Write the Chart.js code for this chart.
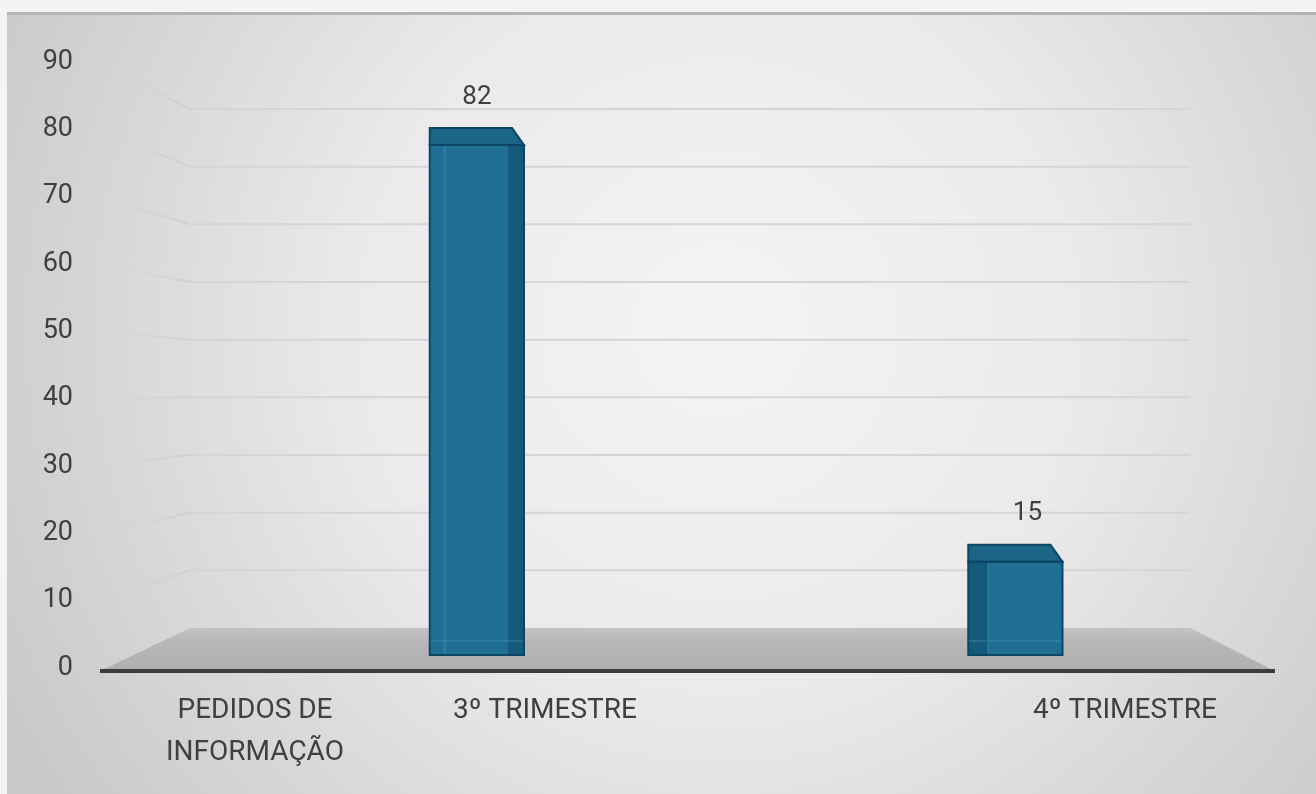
<!DOCTYPE html>
<html>
<head>
<meta charset="utf-8">
<title>Pedidos de informação</title>
<script src="https://cdn.jsdelivr.net/npm/chart.js@4.4.1/dist/chart.umd.min.js"></script>
<style>
  html, body { margin: 0; padding: 0; background: #f4f4f4; }
  canvas { display: block; }
</style>
</head>
<body>
<canvas id="chart" width="1316" height="794"></canvas>
<script>
// categorias do eixo x (a terceira fica sem rótulo)
var categorias = ['PEDIDOS DE INFORMAÇÃO', '3º TRIMESTRE', '', '4º TRIMESTRE'];
var rotulos = [['PEDIDOS DE', 'INFORMAÇÃO'], '3º TRIMESTRE', '', '4º TRIMESTRE'];
var pedidos = [null, 82, null, 15];
var ticksY = [0, 10, 20, 30, 40, 50, 60, 70, 80, 90];

var corTexto = '#404040';
var fonte = 'Roboto, "Open Sans", sans-serif';

// parede do fundo, chão e efeito 3D das barras
var cena3d = {
  id: 'cena3d',
  beforeDraw: function (chart) {
    var ctx = chart.ctx;
    ctx.save();
    ctx.fillStyle = '#f4f4f4';
    ctx.fillRect(0, 0, chart.width, chart.height);
    var g = ctx.createRadialGradient(720, 330, 0, 720, 330, 820);
    g.addColorStop(0, '#f6f3f3');
    g.addColorStop(0.45, '#ebe9e9');
    g.addColorStop(1, '#c8c8c8');
    ctx.fillStyle = g;
    ctx.fillRect(7, 13, chart.width - 7, chart.height - 13);
    ctx.fillStyle = '#b4b4b4';
    ctx.fillRect(7, 12, chart.width - 7, 3);
    ctx.restore();
  },
  beforeDatasetsDraw: function (chart) {
    var ctx = chart.ctx, yg = chart.scales.yg, yl = chart.scales.yl;
    var bx0 = 190, bx1 = 1190, fx0 = 100, fx1 = 1275;
    ctx.save();
    ticksY.forEach(function (v) {
      if (v === 0) return;
      var yb = yg.getPixelForValue(v), yf = yl.getPixelForValue(v);
      ctx.lineWidth = 2;
      ctx.strokeStyle = '#d5d5d5';
      ctx.beginPath();
      ctx.moveTo(bx0, yb);
      ctx.lineTo(bx1, yb);
      ctx.stroke();
      var lg = ctx.createLinearGradient(bx0, 0, fx0 + 10, 0);
      lg.addColorStop(0, 'rgba(205,205,205,0.8)');
      lg.addColorStop(1, 'rgba(205,205,205,0)');
      ctx.strokeStyle = lg;
      ctx.beginPath();
      ctx.moveTo(bx0, yb);
      ctx.lineTo(fx0 + 10, yf + (yb - yf) * 10 / (bx0 - fx0));
      ctx.stroke();
    });
    // chão
    var yb0 = yg.getPixelForValue(0), yf0 = yl.getPixelForValue(0) + 3;
    var fg = ctx.createLinearGradient(0, yb0, 0, yf0);
    fg.addColorStop(0, '#c3c3c3');
    fg.addColorStop(0.3, '#b7b7b7');
    fg.addColorStop(1, '#b0b0b0');
    ctx.fillStyle = fg;
    ctx.beginPath();
    ctx.moveTo(bx0, yb0);
    ctx.lineTo(bx1, yb0);
    ctx.lineTo(fx1, yf0);
    ctx.lineTo(fx0, yf0);
    ctx.closePath();
    ctx.fill();
    ctx.strokeStyle = '#3c3c3c';
    ctx.lineWidth = 4;
    ctx.beginPath();
    ctx.moveTo(fx0, yf0);
    ctx.lineTo(fx1, yf0);
    ctx.stroke();
    ctx.restore();
  },
  afterDatasetsDraw: function (chart) {
    var ctx = chart.ctx, meta = chart.getDatasetMeta(0);
    var cx = (chart.chartArea.left + chart.chartArea.right) / 2;
    ctx.save();
    meta.data.forEach(function (el, i) {
      if (pedidos[i] == null) return;
      var p = el.getProps(['x', 'y', 'base', 'width'], true);
      var x0 = p.x - p.width / 2, x1 = p.x + p.width / 2, top = p.y, base = p.base;
      var dTopo = 17, dLado = 12, lado = 16;
      // face lateral
      ctx.fillStyle = '#155a7a';
      if (p.x > cx) ctx.fillRect(x0, top, lado + 4, base - top);
      else ctx.fillRect(x1 - lado, top, lado, base - top);
      // linhas internas
      ctx.strokeStyle = 'rgba(70,150,190,0.45)';
      ctx.lineWidth = 1.5;
      ctx.beginPath();
      if (p.x > cx) { ctx.moveTo(x0 + lado + 4, top); ctx.lineTo(x0 + lado + 4, base); }
      else { ctx.moveTo(x0 + 15, top); ctx.lineTo(x0 + 15, base); }
      ctx.moveTo(x0, base - 14);
      ctx.lineTo(x1, base - 14);
      ctx.stroke();
      // topo
      ctx.fillStyle = '#1b6587';
      ctx.strokeStyle = '#0c4663';
      ctx.lineWidth = 2;
      ctx.beginPath();
      ctx.moveTo(x0, top);
      ctx.lineTo(x0, top - dTopo);
      ctx.lineTo(x1 - dLado, top - dTopo);
      ctx.lineTo(x1, top);
      ctx.closePath();
      ctx.fill();
      ctx.stroke();
      ctx.strokeRect(x0, top, x1 - x0, base - top);
      // valor
      ctx.fillStyle = corTexto;
      ctx.font = '26px ' + fonte;
      ctx.textAlign = 'center';
      ctx.textBaseline = 'middle';
      ctx.fillText(String(pedidos[i]), p.x + (p.x > cx ? 12 : 0), top - 48);
    });
    ctx.restore();
  }
};

new Chart(document.getElementById('chart'), {
  type: 'bar',
  data: {
    labels: categorias,
    datasets: [{
      label: 'Pedidos de informação',
      data: pedidos,
      xAxisID: 'x',
      yAxisID: 'y',
      backgroundColor: '#1f6f95',
      borderColor: '#0e4c6a',
      borderWidth: 0,
      barPercentage: 0.35,
      categoryPercentage: 1
    }]
  },
  options: {
    responsive: false,
    animation: false,
    layout: { padding: { top: 62, right: 166, bottom: 26, left: 0 } },
    plugins: { legend: { display: false }, tooltip: { enabled: false } },
    scales: {
      x: { type: 'category', display: false },
      xl: {
        type: 'linear', position: 'bottom', min: -0.6276, max: 3.0862, offset: false,
        grid: { display: false, drawTicks: false, offset: false }, border: { display: false },
        afterBuildTicks: function (s) { s.ticks = categorias.map(function (c, i) { return { value: i }; }); },
        afterFit: function (s) { s.height = 100; },
        ticks: {
          autoSkip: false, maxRotation: 0, padding: 22, color: corTexto,
          font: { family: fonte, size: 28, lineHeight: 1.5 },
          callback: function (v, i) { return rotulos[i]; }
        }
      },
      y: { display: false, min: -2.09, max: 95.35 },
      yl: {
        position: 'left', min: 0, max: 90,
        grid: { display: false, drawTicks: false }, border: { display: false },
        afterBuildTicks: function (s) { s.ticks = ticksY.map(function (v) { return { value: v }; }); },
        afterFit: function (s) { s.width = 73; },
        ticks: { padding: 0, color: corTexto, font: { family: fonte, size: 27 } }
      },
      yg: { display: false, min: -6.94, max: 98.15 }
    }
  },
  plugins: [cena3d]
});
</script>
</body>
</html>
